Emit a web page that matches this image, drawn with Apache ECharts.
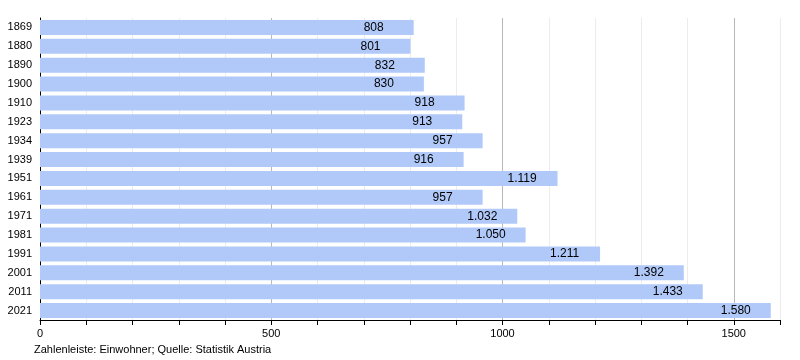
<!DOCTYPE html>
<html><head><meta charset="utf-8">
<script src="https://cdn.jsdelivr.net/npm/echarts@6/dist/echarts.min.js"></script>
<style>html,body{margin:0;padding:0;background:#fff}#c{width:800px;height:360px}</style>
</head><body><div id="c"></div>
<script>
const years = ['1869','1880','1890','1900','1910','1923','1934','1939','1951','1961','1971','1981','1991','2001','2011','2021'];
const population = [808,801,832,830,918,913,957,916,1119,957,1032,1050,1211,1392,1433,1580];
const xTickLabels = [0,500,1000,1500];
const footnote = 'Zahlenleiste: Einwohner; Quelle: Statistik Austria';

const fmt = v => {
  const s = String(v);
  return s.length > 3 ? s.slice(0, s.length - 3) + '.' + s.slice(-3) : s;
};
const chart = echarts.init(document.getElementById('c'), null, {renderer:'canvas'});
chart.setOption({
  animation:false,
  textStyle:{fontFamily:'Liberation Sans, Arial, sans-serif'},
  grid:{left:40,right:20,top:18,bottom:40,containLabel:false},
  xAxis:{
    type:'value',min:0,max:1600,interval:100,
    axisLine:{show:true,lineStyle:{color:'#000',width:1}},
    axisTick:{show:true,length:5,lineStyle:{color:'#000'}},
    axisLabel:{color:'#000',fontSize:11,margin:8,
      formatter:v=> xTickLabels.indexOf(v)>=0 ? String(v) : '' },
    splitLine:{show:true,lineStyle:{color:['#b8b8b8','#ececec','#ececec','#ececec','#ececec'],width:1}}
  },
  yAxis:{
    type:'category',data:years,inverse:true,
    axisLine:{show:true,lineStyle:{color:'#000'}},
    axisTick:{show:false},
    axisLabel:{color:'#000',fontSize:11,margin:8}
  },
  series:[{
    type:'bar',data:population,barCategoryGap:'20%',
    itemStyle:{color:'#b1c9f9'},
    label:{show:true,position:'insideRight',distance:50,align:'left',color:'#000',fontSize:12,
      formatter:p=>fmt(p.value)}
  }],
  graphic:[{type:'text',left:34,top:344,style:{text:footnote,fill:'#000',font:'11px Liberation Sans, Arial, sans-serif'}}]
});
</script></body></html>
